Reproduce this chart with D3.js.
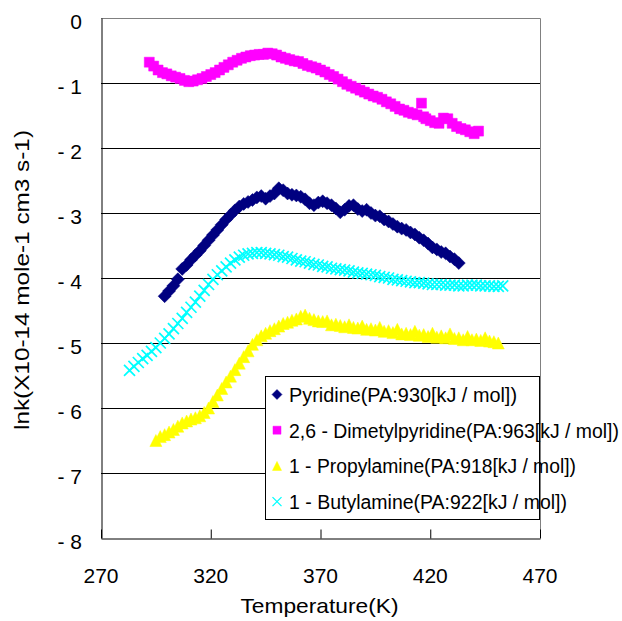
<!DOCTYPE html>
<html lang="en">
<head>
<meta charset="utf-8">
<title>lnk vs Temperature</title>
<script src="https://d3js.org/d3.v7.min.js"></script>
<style>
body { margin: 0; background: #fff; }
svg text { font-family: "Liberation Sans", Arial, sans-serif; fill: #000; }
</style>
</head>
<body>
<script>
// axis ticks
var xTicks = [270, 320, 370, 420, 470];
var yTicks = [0, -1, -2, -3, -4, -5, -6, -7, -8];

var names = ["Pyridine(PA:930[kJ / mol])",
             "2,6 - Dimetylpyridine(PA:963[kJ / mol])",
             "1 - Propylamine(PA:918[kJ / mol])",
             "1 - Butylamine(PA:922[kJ / mol])"];

// Pyridine
var pyrT = [299,301,303,305,307,309,311,313,315,317,319,321,323,325,327,329,331,333,335,337,339,341,343,345,347,349,351,353,355,357,359,361,363,365,367,369,371,373,375,377,379,381,383,385,387,389,391,393,395,397,399,401,403,405,407,409,411,413,415,417,419,421,423,425,427,429,431,433];
var pyrK = [-4.28,-4.20,-4.12,-4.02,-3.86,-3.80,-3.72,-3.65,-3.58,-3.50,-3.42,-3.34,-3.26,-3.18,-3.10,-3.03,-2.96,-2.90,-2.86,-2.83,-2.80,-2.76,-2.74,-2.78,-2.74,-2.70,-2.62,-2.65,-2.70,-2.72,-2.73,-2.75,-2.79,-2.85,-2.88,-2.84,-2.82,-2.85,-2.88,-2.93,-2.99,-2.95,-2.89,-2.88,-2.94,-2.97,-2.95,-3.00,-3.04,-3.05,-3.10,-3.13,-3.17,-3.21,-3.24,-3.26,-3.30,-3.33,-3.38,-3.42,-3.47,-3.53,-3.56,-3.60,-3.62,-3.67,-3.71,-3.77];

// 2,6-Dimetylpyridine
var dmpT = [292,294,296,298,300,302,304,306,308,310,312,314,316,318,320,322,324,326,328,330,332,334,336,338,340,342,344,346,348,350,352,354,356,358,360,362,364,366,368,370,372,374,376,378,380,382,384,386,388,390,392,394,396,398,400,402,404,406,408,410,412,414,416,417,418,420,422,424,426,428,430,432,434,436,438,440,442];
var dmpK = [-0.68,-0.74,-0.80,-0.84,-0.86,-0.89,-0.91,-0.93,-0.96,-0.98,-0.97,-0.95,-0.93,-0.90,-0.87,-0.84,-0.80,-0.76,-0.72,-0.68,-0.65,-0.62,-0.60,-0.58,-0.57,-0.56,-0.56,-0.54,-0.55,-0.57,-0.60,-0.62,-0.64,-0.66,-0.67,-0.70,-0.73,-0.75,-0.77,-0.80,-0.83,-0.87,-0.90,-0.94,-0.98,-1.02,-1.05,-1.08,-1.11,-1.14,-1.17,-1.20,-1.22,-1.25,-1.29,-1.32,-1.36,-1.40,-1.42,-1.45,-1.47,-1.49,-1.31,-1.52,-1.55,-1.58,-1.61,-1.62,-1.54,-1.55,-1.62,-1.67,-1.70,-1.72,-1.75,-1.78,-1.74];

// 1-Propylamine
var proT = [295,297,299,301,303,305,307,309,311,313,315,317,319,321,323,325,327,329,331,333,335,337,339,341,343,345,347,349,351,353,355,357,359,361,363,365,367,369,371,373,375,377,379,381,383,385,387,389,391,393,395,397,399,401,403,405,407,409,411,413,415,417,419,421,423,425,427,429,431,433,435,437,439,441,443,445,447,449,451];
var proK = [-6.50,-6.44,-6.41,-6.37,-6.33,-6.28,-6.23,-6.20,-6.17,-6.15,-6.12,-6.07,-6.00,-5.90,-5.80,-5.70,-5.60,-5.51,-5.41,-5.31,-5.21,-5.12,-5.02,-4.95,-4.89,-4.85,-4.81,-4.78,-4.74,-4.70,-4.68,-4.65,-4.63,-4.59,-4.57,-4.62,-4.64,-4.66,-4.67,-4.66,-4.72,-4.71,-4.73,-4.75,-4.72,-4.76,-4.77,-4.74,-4.79,-4.78,-4.80,-4.76,-4.82,-4.81,-4.84,-4.79,-4.86,-4.85,-4.87,-4.82,-4.88,-4.87,-4.90,-4.85,-4.91,-4.89,-4.92,-4.86,-4.93,-4.92,-4.95,-4.90,-4.95,-4.94,-4.96,-4.92,-4.97,-4.98,-5.00];

// 1-Butylamine
var butT = [283,285,287,289,291,293,295,297,299,301,303,305,307,309,311,313,315,317,319,321,323,325,327,329,331,333,335,337,339,341,343,345,347,349,351,353,355,357,359,361,363,365,367,369,371,373,375,377,379,381,383,385,387,389,391,393,395,397,399,401,403,405,407,409,411,413,415,417,419,421,423,425,427,429,431,433,435,437,439,441,443,445,447,449,451,453];
var butK = [-5.42,-5.36,-5.30,-5.24,-5.19,-5.13,-5.07,-5.00,-4.93,-4.86,-4.78,-4.70,-4.62,-4.53,-4.45,-4.37,-4.28,-4.19,-4.10,-4.02,-3.95,-3.89,-3.83,-3.77,-3.72,-3.68,-3.65,-3.63,-3.62,-3.61,-3.61,-3.62,-3.63,-3.64,-3.65,-3.67,-3.68,-3.70,-3.72,-3.74,-3.75,-3.77,-3.79,-3.80,-3.82,-3.83,-3.85,-3.86,-3.87,-3.88,-3.89,-3.91,-3.92,-3.93,-3.94,-3.95,-3.96,-3.98,-3.99,-4.00,-4.02,-4.03,-4.04,-4.05,-4.06,-4.07,-4.07,-4.08,-4.09,-4.10,-4.10,-4.10,-4.11,-4.11,-4.11,-4.12,-4.12,-4.11,-4.11,-4.11,-4.12,-4.12,-4.12,-4.13,-4.13,-4.12];

var W = 622, H = 621;
var plotL = 101, plotR = 540, plotT = 18, plotB = 538;

var x = d3.scaleLinear().domain([270, 470]).range([plotL, plotR]);
var y = d3.scaleLinear().domain([-8, 0]).range([plotB, plotT]);

var svg = d3.select("body").append("svg")
    .attr("width", W).attr("height", H);

// gridlines
svg.append("g").selectAll("line")
    .data(yTicks.filter(function (d) { return d > -8 && d < 0; }))
    .enter().append("line")
    .attr("x1", plotL).attr("x2", plotR)
    .attr("y1", function (d) { return y(d) + 0.5; })
    .attr("y2", function (d) { return y(d) + 0.5; })
    .attr("stroke", "#000").attr("stroke-width", 1);

// plot frame (top / right gray)
svg.append("path")
    .attr("d", "M" + plotL + "," + (plotT + 0.5) + "H" + (plotR + 0.5) + "V" + plotB)
    .attr("fill", "none").attr("stroke", "#808080");

// axes
var xAxis = d3.axisBottom(x).tickValues(xTicks).tickSize(-9).tickSizeOuter(0).tickFormat("");
svg.append("g").attr("transform", "translate(0," + (plotB + 0.5) + ")").call(xAxis)
    .call(function (g) { g.selectAll("path,line").attr("stroke", "#000"); });
var yAxis = d3.axisLeft(y).tickValues(yTicks).tickSize(0).tickFormat("");
svg.append("g").attr("transform", "translate(" + (plotL + 0.5) + ",0)").call(yAxis)
    .call(function (g) { g.selectAll("path").attr("stroke", "#000"); });

// tick labels
svg.append("g").selectAll("text").data(xTicks).enter().append("text")
    .attr("x", function (d) { return x(d); })
    .attr("y", 583)
    .attr("text-anchor", "middle")
    .style("font-size", "21px")
    .text(function (d) { return d; });

svg.append("g").selectAll("text").data(yTicks).enter().append("text")
    .attr("x", 82)
    .attr("y", function (d) { return y(d) + 11; })
    .attr("text-anchor", "end")
    .style("font-size", "21px")
    .text(function (d) { return d === 0 ? "0" : "- " + Math.abs(d); });

// axis titles
svg.append("text")
    .attr("x", 319.5).attr("y", 613)
    .attr("text-anchor", "middle")
    .attr("textLength", 158).attr("lengthAdjust", "spacingAndGlyphs")
    .style("font-size", "21px")
    .text("Temperature(K)");

svg.append("text")
    .attr("transform", "translate(29,280) rotate(-90)")
    .attr("text-anchor", "middle")
    .attr("textLength", 300).attr("lengthAdjust", "spacingAndGlyphs")
    .style("font-size", "21px")
    .text("lnk(X10-14  mole-1  cm3  s-1)");

// marker shapes
function diamond(r) { return "M0," + (-r) + "L" + r + ",0L0," + r + "L" + (-r) + ",0Z"; }
function square(s) { var h = s / 2; return "M" + (-h) + "," + (-h) + "h" + s + "v" + s + "h" + (-s) + "Z"; }
function triangle(s) { var h = s / 2; return "M0," + (-h) + "L" + h + "," + h + "L" + (-h) + "," + h + "Z"; }
function cross(s) { var h = s / 2; return "M" + (-h) + "," + (-h) + "L" + h + "," + h + "M" + h + "," + (-h) + "L" + (-h) + "," + h; }

var series = [
  { T: pyrT, K: pyrK, color: "#000080", shape: function () { return diamond(6.5); }, legend: function () { return diamond(5); }, fill: true, sw: 0.5 },
  { T: dmpT, K: dmpK, color: "#ff00ff", shape: function () { return square(10); }, legend: function () { return square(8); }, fill: true, sw: 0.5 },
  { T: proT, K: proK, color: "#ffff00", shape: function () { return triangle(12); }, legend: function () { return triangle(9); }, fill: true, sw: 0.5 },
  { T: butT, K: butK, color: "#00ffff", shape: function () { return cross(11); }, legend: function () { return cross(9); }, fill: false, sw: 1.7 }
];

series.forEach(function (s) {
  svg.append("g").selectAll("path")
    .data(s.T.map(function (t, i) { return [t, s.K[i]]; }))
    .enter().append("path")
    .attr("transform", function (d) { return "translate(" + x(d[0]) + "," + y(d[1]) + ")"; })
    .attr("d", s.shape)
    .attr("fill", s.fill ? s.color : "none")
    .attr("stroke", s.color)
    .attr("stroke-width", s.sw);
});

// legend
var legendW = [228, 330, 287, 278];
svg.append("rect")
    .attr("x", 265.5).attr("y", 376.5).attr("width", 274).attr("height", 143)
    .attr("fill", "#fff").attr("stroke", "#000");

var leg = svg.append("g").selectAll("g").data(series).enter().append("g")
    .attr("transform", function (d, i) { return "translate(277," + (394.5 + i * 35.7) + ")"; });
leg.append("path")
    .attr("d", function (d) { return d.legend(); })
    .attr("fill", function (d) { return d.fill ? d.color : "none"; })
    .attr("stroke", function (d) { return d.color; })
    .attr("stroke-width", function (d) { return d.fill ? 0.5 : 1.3; });
leg.append("text")
    .attr("x", 12).attr("y", 7.5)
    .attr("textLength", function (d, i) { return legendW[i]; })
    .attr("lengthAdjust", "spacingAndGlyphs")
    .style("font-size", "20px")
    .text(function (d, i) { return names[i]; });
</script>
</body>
</html>
